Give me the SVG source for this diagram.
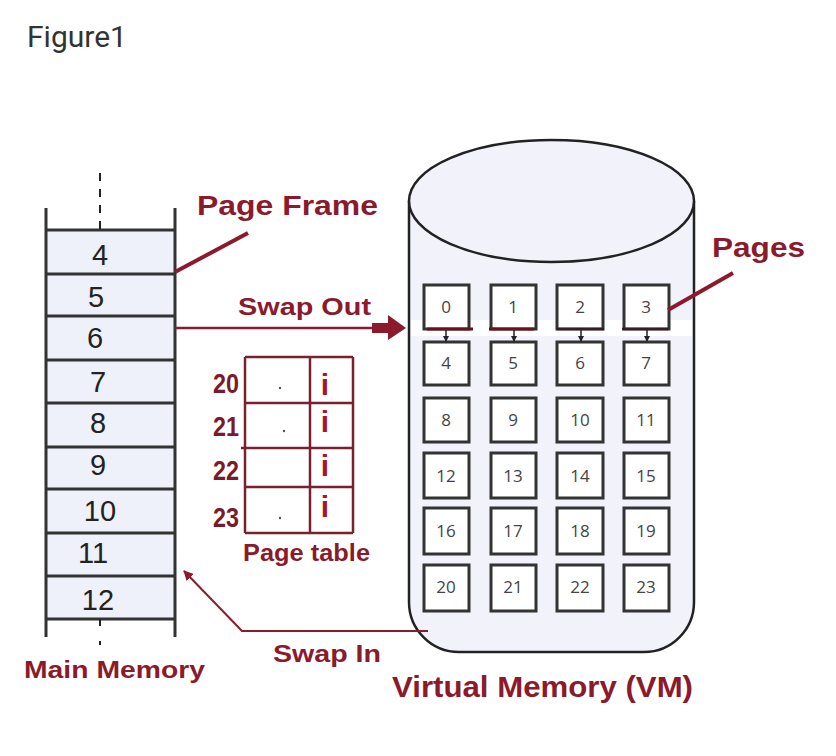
<svg xmlns="http://www.w3.org/2000/svg" width="836" height="756" viewBox="0 0 836 756">
<style>
.lbl{font-family:"Liberation Sans",Arial,sans-serif;font-weight:bold;fill:#8a1a2c}
.num{font-family:"Liberation Sans",Arial,sans-serif;font-size:29px;fill:#222;text-anchor:middle}
.pg{font-family:"Open Sans","Liberation Sans",sans-serif;font-size:17px;fill:#444;text-anchor:middle}
.box{fill:#fff;stroke:#333;stroke-width:3}
.mm{stroke:#333;stroke-width:3;fill:none}
.pt{stroke:#7a2030;stroke-width:2.5;fill:none}
.ptn{font-family:"Liberation Sans",Arial,sans-serif;font-weight:bold;font-size:27px;fill:#7a1a2a;text-anchor:end}
.ii{font-family:"Liberation Sans",Arial,sans-serif;font-weight:bold;font-size:30px;fill:#a5162e;text-anchor:middle}
.red{stroke:#8a1a2c;fill:none}
</style>
<defs>
<marker id="ah" markerWidth="10" markerHeight="10" refX="9" refY="5" orient="auto" markerUnits="userSpaceOnUse">
<path d="M0,0 L10,5 L0,10 z" fill="#8a1a2c"/>
</marker>
<marker id="sa" markerWidth="6" markerHeight="6" refX="5" refY="3" orient="auto" markerUnits="userSpaceOnUse">
<path d="M0,0 L6,3 L0,6 z" fill="#222"/>
</marker>
</defs>
<rect width="836" height="756" fill="#fff"/>
<text x="27" y="47" font-family="Roboto,'Open Sans',sans-serif" font-size="30" fill="#333">Figure1</text>

<g id="main-memory">
<rect x="46" y="230" width="129" height="389" fill="#eef0fa"/>
<line class="mm" x1="46" y1="208" x2="46" y2="637"/>
<line class="mm" x1="175" y1="208" x2="175" y2="637"/>
<g class="mm">
<line x1="46" y1="230" x2="175" y2="230"/>
<line x1="46" y1="274" x2="175" y2="274"/>
<line x1="46" y1="316" x2="175" y2="316"/>
<line x1="46" y1="360" x2="175" y2="360"/>
<line x1="46" y1="403" x2="175" y2="403"/>
<line x1="46" y1="447" x2="175" y2="447"/>
<line x1="46" y1="489" x2="175" y2="489"/>
<line x1="46" y1="533" x2="175" y2="533"/>
<line x1="46" y1="576" x2="175" y2="576"/>
<line x1="46" y1="619" x2="175" y2="619"/>
</g>
<line x1="100" y1="173" x2="100" y2="230" stroke="#222" stroke-width="2" stroke-dasharray="8 8"/>
<line x1="100" y1="619" x2="100" y2="626" stroke="#222" stroke-width="2"/>
<line x1="100" y1="641" x2="100" y2="645" stroke="#222" stroke-width="2"/>
<text class="num" x="100" y="265">4</text>
<text class="num" x="96" y="307">5</text>
<text class="num" x="95" y="348">6</text>
<text class="num" x="98" y="392">7</text>
<text class="num" x="98" y="433">8</text>
<text class="num" x="98" y="475">9</text>
<text class="num" x="100" y="521">10</text>
<text class="num" x="93" y="563">11</text>
<text class="num" x="98" y="610">12</text>
</g>

<g id="page-table">
<g class="pt">
<line x1="245" y1="357" x2="245" y2="533"/>
<line x1="310" y1="357" x2="310" y2="533"/>
<line x1="353" y1="357" x2="353" y2="533"/>
<line x1="245" y1="357" x2="353" y2="357"/>
<line x1="245" y1="403" x2="353" y2="403"/>
<line x1="241" y1="448" x2="353" y2="448"/>
<line x1="245" y1="487" x2="353" y2="487"/>
<line x1="245" y1="533" x2="353" y2="533"/>
</g>
<text class="ptn" x="239" y="393" textLength="26" lengthAdjust="spacingAndGlyphs">20</text>
<text class="ptn" x="239" y="436" textLength="26" lengthAdjust="spacingAndGlyphs">21</text>
<text class="ptn" x="239" y="480" textLength="26" lengthAdjust="spacingAndGlyphs">22</text>
<text class="ptn" x="239" y="527" textLength="26" lengthAdjust="spacingAndGlyphs">23</text>
<text class="ii" x="325" y="395">i</text>
<text class="ii" x="325" y="432">i</text>
<text class="ii" x="325" y="476">i</text>
<text class="ii" x="325" y="517">i</text>
<circle cx="280" cy="388" r="1.2" fill="#555"/>
<circle cx="284" cy="431" r="1.2" fill="#555"/>
<circle cx="280" cy="518" r="1.2" fill="#555"/>
<text class="lbl" x="243" y="561" font-size="24" textLength="127" lengthAdjust="spacingAndGlyphs">Page table</text>
</g>

<g id="virtual-memory">
<path d="M409 201 L409 602 A50 50 0 0 0 459 652 L644 652 A50 50 0 0 0 694 602 L694 201" fill="#f2f2fb" stroke="#222" stroke-width="2.5"/>
<ellipse cx="551.5" cy="201" rx="142.5" ry="61" fill="#f2f2fb" stroke="#222" stroke-width="2.5"/>
<rect x="411" y="320" width="281" height="16" fill="#fff"/>
<g id="pages">
<rect class="box" x="424" y="285" width="45" height="44"/><text class="pg" x="446" y="313">0</text>
<rect class="box" x="491" y="285" width="45" height="44"/><text class="pg" x="513" y="313">1</text>
<rect class="box" x="557" y="285" width="46" height="44"/><text class="pg" x="580" y="313">2</text>
<rect class="box" x="624" y="285" width="45" height="44"/><text class="pg" x="646" y="313">3</text>
<rect class="box" x="424" y="342" width="45" height="43"/><text class="pg" x="446" y="369">4</text>
<rect class="box" x="491" y="342" width="45" height="43"/><text class="pg" x="513" y="369">5</text>
<rect class="box" x="557" y="342" width="46" height="43"/><text class="pg" x="580" y="369">6</text>
<rect class="box" x="624" y="342" width="45" height="43"/><text class="pg" x="646" y="369">7</text>
<rect class="box" x="424" y="398" width="45" height="44"/><text class="pg" x="446" y="426">8</text>
<rect class="box" x="491" y="398" width="45" height="44"/><text class="pg" x="513" y="426">9</text>
<rect class="box" x="557" y="398" width="46" height="44"/><text class="pg" x="580" y="426">10</text>
<rect class="box" x="624" y="398" width="45" height="44"/><text class="pg" x="646" y="426">11</text>
<rect class="box" x="424" y="453" width="45" height="45"/><text class="pg" x="446" y="482">12</text>
<rect class="box" x="491" y="453" width="45" height="45"/><text class="pg" x="513" y="482">13</text>
<rect class="box" x="557" y="453" width="46" height="45"/><text class="pg" x="580" y="482">14</text>
<rect class="box" x="624" y="453" width="45" height="45"/><text class="pg" x="646" y="482">15</text>
<rect class="box" x="424" y="508" width="45" height="46"/><text class="pg" x="446" y="537">16</text>
<rect class="box" x="491" y="508" width="45" height="46"/><text class="pg" x="513" y="537">17</text>
<rect class="box" x="557" y="508" width="46" height="46"/><text class="pg" x="580" y="537">18</text>
<rect class="box" x="624" y="508" width="45" height="46"/><text class="pg" x="646" y="537">19</text>
<rect class="box" x="424" y="565" width="45" height="46"/><text class="pg" x="446" y="593">20</text>
<rect class="box" x="491" y="565" width="45" height="46"/><text class="pg" x="513" y="593">21</text>
<rect class="box" x="557" y="565" width="46" height="46"/><text class="pg" x="580" y="593">22</text>
<rect class="box" x="624" y="565" width="45" height="46"/><text class="pg" x="646" y="593">23</text>
</g>
<line x1="427" y1="329" x2="473" y2="329" stroke="#6a1020" stroke-width="3"/>
<line x1="489" y1="329" x2="534" y2="329" stroke="#6a1020" stroke-width="3"/>
<line x1="557" y1="329" x2="604" y2="329" stroke="#3a1a20" stroke-width="2.5"/>
<line x1="622" y1="329" x2="668" y2="329" stroke="#3a1a20" stroke-width="2.5"/>
<g stroke="#222" stroke-width="1.5">
<line x1="446" y1="330" x2="446" y2="341" marker-end="url(#sa)"/>
<line x1="514" y1="330" x2="514" y2="341" marker-end="url(#sa)"/>
<line x1="581" y1="330" x2="581" y2="341" marker-end="url(#sa)"/>
<line x1="647" y1="330" x2="647" y2="341" marker-end="url(#sa)"/>
</g>
</g>

<g id="connectors">
<line class="red" x1="175" y1="272" x2="248" y2="233" stroke-width="4"/>
<line class="red" x1="668" y1="310" x2="733" y2="273" stroke-width="4"/>
<line class="red" x1="175" y1="328" x2="373" y2="328" stroke-width="2.5"/>
<path d="M372 323 L388 323 L388 315 L406 328 L388 340 L388 333 L372 333 z" fill="#8a1a2c"/>
<polyline class="red" points="428,631 242,631 184,571" stroke-width="2" marker-end="url(#ah)"/>
</g>

<g id="labels">
<text class="lbl" x="197" y="215" font-size="27" textLength="181" lengthAdjust="spacingAndGlyphs">Page Frame</text>
<text class="lbl" x="238" y="315" font-size="23" textLength="133" lengthAdjust="spacingAndGlyphs">Swap Out</text>
<text class="lbl" x="712" y="257" font-size="27" textLength="93" lengthAdjust="spacingAndGlyphs">Pages</text>
<text class="lbl" x="273" y="662" font-size="23" textLength="108" lengthAdjust="spacingAndGlyphs">Swap In</text>
<text class="lbl" x="24" y="678" font-size="24" textLength="181" lengthAdjust="spacingAndGlyphs">Main Memory</text>
<text class="lbl" x="392" y="697" font-size="30" textLength="301" lengthAdjust="spacingAndGlyphs">Virtual Memory (VM)</text>
</g>
</svg>
